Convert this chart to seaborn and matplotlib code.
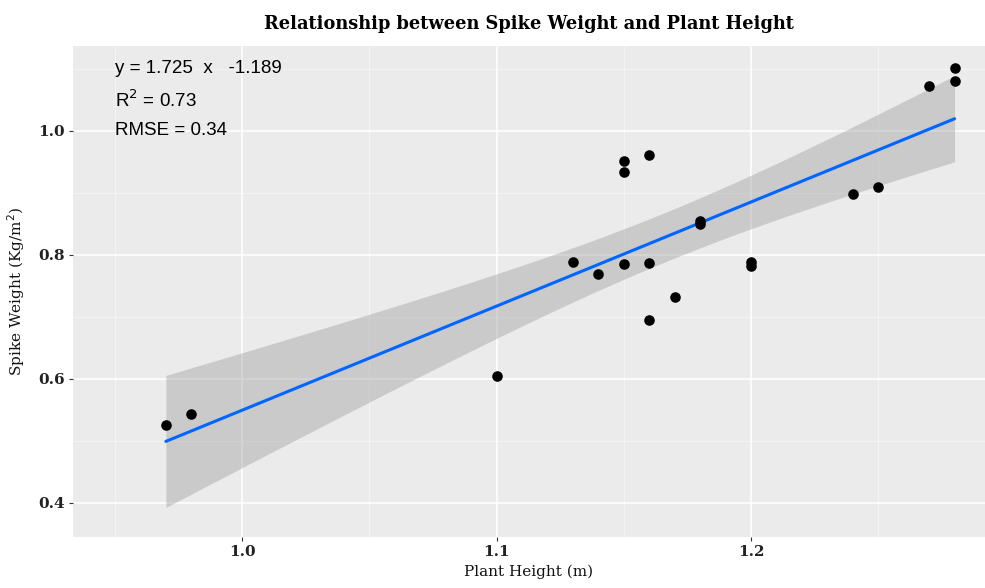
import numpy as np
import pandas as pd
import seaborn as sns
import matplotlib.pyplot as plt
from matplotlib.ticker import MultipleLocator

# plant height (m) and spike weight (kg/m2)
plant_height = [0.97, 0.98, 1.10, 1.13, 1.14, 1.15, 1.15, 1.15, 1.16, 1.16, 1.16,
                1.17, 1.18, 1.18, 1.20, 1.20, 1.24, 1.25, 1.27, 1.28, 1.28]
spike_weight = [0.525, 0.544, 0.605, 0.789, 0.769, 0.785, 0.952, 0.934, 0.961, 0.787, 0.695,
                0.732, 0.855, 0.850, 0.789, 0.782, 0.898, 0.909, 1.073, 1.102, 1.081]
eq_lines = ['y = 1.725  x   -1.189', r'R$^2$ = 0.73', 'RMSE = 0.34']
x_ticks = [1.0, 1.1, 1.2]
y_ticks = [0.4, 0.6, 0.8, 1.0]

df = pd.DataFrame({'height': plant_height, 'weight': spike_weight})

sns.set_style('darkgrid', {'axes.facecolor': '#EBEBEB', 'grid.color': 'white'})

fig = plt.figure(figsize=(9.85, 5.88), dpi=100)
ax = fig.add_axes([0.0741, 0.0867, 0.926, 0.8351])

# 95% confidence band of the linear fit (like geom_smooth)
x = df['height'].values
y = df['weight'].values
n = len(x)
b1, b0 = np.polyfit(x, y, 1)
resid = y - (b0 + b1 * x)
s = np.sqrt(np.sum(resid ** 2) / (n - 2))
xs = np.linspace(x.min(), x.max(), 100)
t = 2.093  # t(0.975, 19)
se = s * np.sqrt(1 / n + (xs - x.mean()) ** 2 / np.sum((x - x.mean()) ** 2))
fit = b0 + b1 * xs
ax.fill_between(xs, fit - t * se, fit + t * se, color='#999999', alpha=0.4, lw=0, zorder=2)

sns.regplot(data=df, x='height', y='weight', ci=None, ax=ax, truncate=True,
            scatter_kws={'s': 58, 'color': 'black', 'alpha': 1, 'zorder': 4, 'linewidths': 0},
            line_kws={'color': '#0066FF', 'lw': 2.2, 'zorder': 3})

for i, txt in enumerate(eq_lines):
    ax.text(0.95, 1.10 - 0.05 * i, txt, fontsize=13.5, family='Liberation Sans',
            color='black', va='center', ha='left', zorder=5)

ax.set_xlim(0.9335, 1.292)
ax.set_ylim(0.345, 1.137)
ax.set_xticks(x_ticks)
ax.set_yticks(y_ticks)
ax.xaxis.set_minor_locator(MultipleLocator(0.05))
ax.yaxis.set_minor_locator(MultipleLocator(0.1))
ax.grid(which='major', color='white', lw=1.1)
ax.grid(which='minor', color='white', lw=0.5, alpha=0.6)
ax.set_axisbelow(True)
for sp in ax.spines.values():
    sp.set_visible(False)

ax.tick_params(axis='both', which='major', length=3, width=0.8, color='#333333',
               labelsize=11, pad=3, bottom=True, left=True)
ax.tick_params(axis='both', which='minor', length=0)
ax.set_xticklabels([f'{v:.1f}' for v in x_ticks])
ax.set_yticklabels([f'{v:.1f}' for v in y_ticks])
for lab in ax.get_xticklabels() + ax.get_yticklabels():
    lab.set_family('DejaVu Serif')
    lab.set_fontsize(11)
    lab.set_fontweight('bold')
    lab.set_color('#222222')

ax.set_xlabel('Plant Height (m)', family='DejaVu Serif', fontsize=11, labelpad=4, color='#111111')
ax.set_ylabel(r'Spike Weight (Kg/m$^2$)', family='DejaVu Serif', fontsize=11, labelpad=8,
              color='#111111')
ax.set_title('Relationship between Spike Weight and Plant Height', family='DejaVu Serif',
             fontweight='bold', fontsize=12.8, pad=12, color='black')

fig.savefig('out.png', dpi=100)
